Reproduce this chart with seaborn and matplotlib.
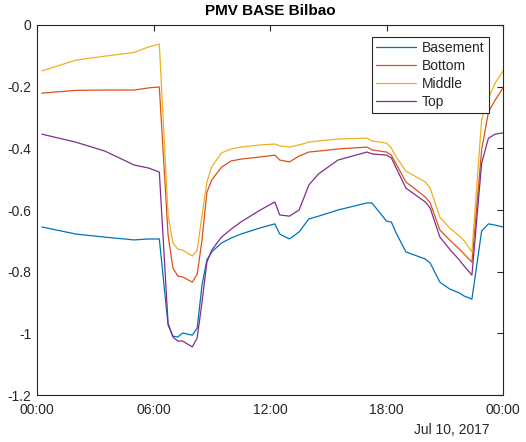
import pandas as pd
import seaborn as sns
import matplotlib.pyplot as plt
import matplotlib.dates as mdates

# hours after midnight, Jul 10 2017
hours = [0.25, 2, 3.5, 5, 5.75, 6.3, 6.75, 7.0, 7.25, 7.5, 8.0, 8.25, 8.5, 8.75,
         9.0, 9.5, 10.0, 10.5, 11.5, 12.25, 12.5, 13.0, 13.5, 14.0, 14.5, 15.5,
         17.0, 17.25, 18.0, 18.25, 18.5, 19.0, 20.0, 20.25, 20.75, 21.25, 21.75,
         22.0, 22.4, 22.9, 23.25, 23.6, 24.0]

basement = [-0.655, -0.678, -0.688, -0.697, -0.694, -0.694, -0.973, -1.009, -1.012,
            -0.999, -1.006, -0.983, -0.843, -0.762, -0.736, -0.707, -0.691, -0.678,
            -0.658, -0.645, -0.678, -0.694, -0.671, -0.629, -0.620, -0.600, -0.577,
            -0.577, -0.636, -0.639, -0.675, -0.736, -0.759, -0.772, -0.834, -0.856,
            -0.869, -0.879, -0.889, -0.668, -0.645, -0.649, -0.655]
bottom = [-0.221, -0.212, -0.211, -0.211, -0.204, -0.201, -0.681, -0.788, -0.814,
          -0.817, -0.834, -0.808, -0.697, -0.542, -0.503, -0.461, -0.441, -0.435,
          -0.428, -0.422, -0.438, -0.444, -0.425, -0.412, -0.409, -0.402, -0.396,
          -0.405, -0.412, -0.422, -0.451, -0.509, -0.558, -0.577, -0.665, -0.697,
          -0.727, -0.743, -0.769, -0.405, -0.282, -0.243, -0.204]
middle = [-0.149, -0.114, -0.101, -0.089, -0.071, -0.062, -0.616, -0.707, -0.727,
          -0.730, -0.749, -0.730, -0.616, -0.509, -0.460, -0.415, -0.402, -0.396,
          -0.389, -0.386, -0.392, -0.396, -0.389, -0.380, -0.376, -0.370, -0.367,
          -0.376, -0.383, -0.399, -0.428, -0.474, -0.509, -0.529, -0.623, -0.658,
          -0.684, -0.700, -0.736, -0.308, -0.237, -0.188, -0.149]
top = [-0.354, -0.380, -0.409, -0.454, -0.464, -0.477, -0.967, -1.012, -1.025,
       -1.025, -1.044, -1.015, -0.898, -0.769, -0.730, -0.688, -0.662, -0.639,
       -0.600, -0.574, -0.616, -0.620, -0.600, -0.519, -0.483, -0.438, -0.412,
       -0.418, -0.422, -0.431, -0.464, -0.529, -0.574, -0.594, -0.688, -0.727,
       -0.762, -0.782, -0.811, -0.448, -0.367, -0.354, -0.350]

zones = ["Basement", "Bottom", "Middle", "Top"]
colors = ["#0072BD", "#D95319", "#EDB120", "#7E2F8E"]

start = pd.Timestamp("2017-07-10")
times = start + pd.to_timedelta(hours, unit="h")
df = pd.DataFrame({"time": times, "Basement": basement, "Bottom": bottom,
                   "Middle": middle, "Top": top})
long_df = df.melt(id_vars="time", var_name="zone", value_name="pmv")

sns.set_style("white")
plt.rcParams["font.family"] = ["Liberation Sans", "DejaVu Sans"]
ink = "#262626"

fig = plt.figure(figsize=(5.26, 4.42), dpi=100)
ax = fig.add_axes([37 / 526, 47 / 442, 466 / 526, 370 / 442])

sns.lineplot(data=long_df, x="time", y="pmv", hue="zone", hue_order=zones,
             palette=colors, linewidth=0.9, ax=ax)

ax.set_xlim(start, start + pd.Timedelta(days=1))
ax.set_ylim(-1.2, 0)
ax.xaxis.set_major_locator(mdates.HourLocator(byhour=[0, 6, 12, 18]))
ax.xaxis.set_major_formatter(mdates.DateFormatter("%H:%M"))
yt = [-1.2, -1.0, -0.8, -0.6, -0.4, -0.2, 0]
ax.set_yticks(yt)
ax.set_yticklabels(["-1.2", "-1", "-0.8", "-0.6", "-0.4", "-0.2", "0"])
ax.set_xlabel("")
ax.set_ylabel("")
ax.set_title("PMV BASE Bilbao", fontsize=11, fontweight="bold", color="black", pad=7)

for s in ax.spines.values():
    s.set_color(ink)
    s.set_linewidth(0.8)
ax.tick_params(direction="in", length=4, width=0.8, colors=ink, labelsize=10,
               top=True, right=True, labelcolor=ink)
ax.tick_params(axis="x", pad=6)
ax.tick_params(axis="y", pad=4)

ax.text(0.972, -0.095, "Jul 10, 2017", transform=ax.transAxes, ha="right",
        va="center", fontsize=10, color=ink)

leg = ax.legend(loc="upper right", bbox_to_anchor=(0.969, 0.968), fontsize=10,
                frameon=True, fancybox=False, framealpha=1, edgecolor=ink,
                handlelength=2.9, handletextpad=0.4, borderpad=0.3,
                labelspacing=0.28, borderaxespad=0)
leg.get_frame().set_linewidth(0.8)
for line in leg.get_lines():
    line.set_linewidth(0.9)

fig.savefig("out.png", dpi=100)
